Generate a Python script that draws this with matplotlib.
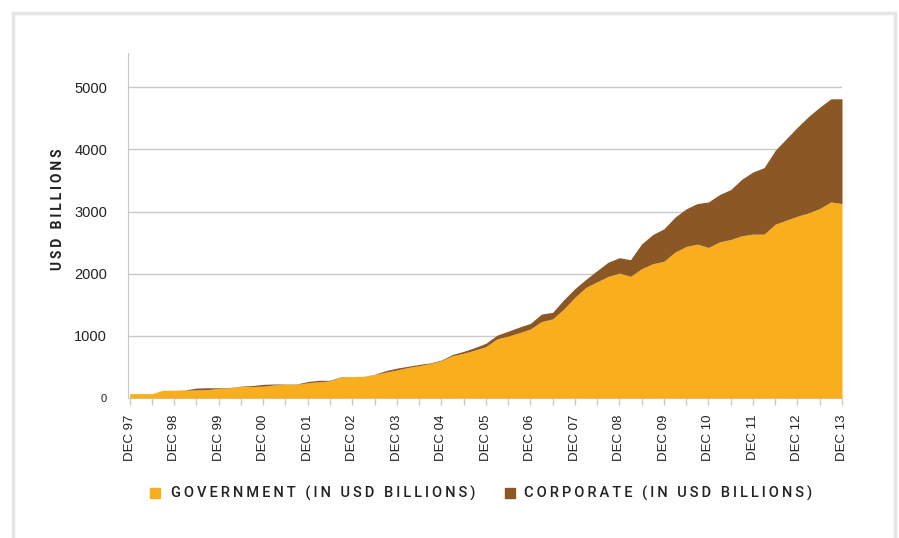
import matplotlib
matplotlib.use("Agg")
import matplotlib.pyplot as plt
from matplotlib.patches import Rectangle

# quarterly, Dec 97 .. Dec 13 (USD billions)
government = [70, 70, 70, 125, 125, 125, 130, 135, 155, 165,
              185, 185, 190, 210, 220, 220, 245, 260, 275, 340,
              345, 350, 375, 415, 450, 490, 520, 555, 600, 680,
              720, 770, 826, 950, 995, 1050, 1110, 1230, 1272, 1430,
              1620, 1780, 1870, 1957, 2010, 1957, 2080, 2160, 2200, 2347,
              2438, 2475, 2422, 2512, 2550, 2610, 2636, 2636, 2796, 2860,
              2925, 2978, 3048, 3154, 3128]
corporate = [0, 0, 0, 0, 0, 5, 30, 30, 10, 5,
             5, 15, 30, 15, 5, 5, 20, 25, 10, 5,
             0, 0, 5, 25, 30, 20, 20, 10, 10, 20,
             30, 40, 54, 60, 80, 90, 90, 120, 106, 150,
             140, 130, 180, 229, 247, 268, 400, 470, 522, 563,
             605, 653, 732, 761, 803, 910, 1000, 1070, 1188, 1311,
             1433, 1552, 1631, 1659, 1685]
year_labels = ["DEC 97", "DEC 98", "DEC 99", "DEC 00", "DEC 01", "DEC 02",
               "DEC 03", "DEC 04", "DEC 05", "DEC 06", "DEC 07", "DEC 08",
               "DEC 09", "DEC 10", "DEC 11", "DEC 12", "DEC 13"]
y_ticks = [0, 1000, 2000, 3000, 4000, 5000]
legend_labels = ["GOVERNMENT (IN USD BILLIONS)", "CORPORATE (IN USD BILLIONS)"]

GOV_COLOR = "#F9AE1D"
CORP_COLOR = "#8B5724"
GRID = "#C9C9C9"

plt.rcParams["font.family"] = ["Liberation Sans", "DejaVu Sans"]


def spaced(s, sep="\u2009"):
    # fake letter spacing
    return sep.join(s)


W, H = 899, 538
fig = plt.figure(figsize=(W / 100, H / 100), dpi=100)
fig.patch.set_facecolor("white")

# light grey frame around the panel
fig.patches.append(Rectangle((13 / W, -0.1), (895 - 13) / W, (H - 13) / H + 0.1,
                             transform=fig.transFigure, fill=False,
                             edgecolor="#E6E6E6", linewidth=2.5, zorder=0))

ax = fig.add_axes([128 / W, 1 - 398 / H, (842 - 128) / W, (398 - 53) / H])

x = list(range(len(government)))
total = [g + c for g, c in zip(government, corporate)]
ax.fill_between(x, 0, government, color=GOV_COLOR, linewidth=0, zorder=3)
ax.fill_between(x, government, total, color=CORP_COLOR, linewidth=0, zorder=3)

ax.set_xlim(-0.15, len(x) - 1)
ax.set_ylim(0, 5550)

ax.set_yticks(y_ticks)
ax.set_yticklabels([str(v) for v in y_ticks], fontsize=10.5, color="#222222")
ax.get_yticklabels()[0].set_fontsize(8)
ax.tick_params(axis="y", length=0, pad=15)
for v in y_ticks[1:]:
    ax.axhline(v, color=GRID, linewidth=1, zorder=1)

ax.set_xticks(range(0, len(x), 4))
ax.set_xticklabels(year_labels, rotation=90, fontsize=9.5, color="#222222")
ax.set_xticks(range(2, len(x), 4), minor=True)
ax.tick_params(axis="x", which="both", length=5, color=GRID, pad=7, width=1)

for s in ["top", "right"]:
    ax.spines[s].set_visible(False)
ax.spines["left"].set_color(GRID)
ax.spines["bottom"].set_color(GRID)
ax.spines["left"].set_zorder(4)

fig.text(58 / W, 1 - 209 / H, spaced("USD BILLIONS"), rotation=90,
         ha="center", va="center", fontsize=10, fontweight="bold",
         color="#222222", family=["Roboto", "DejaVu Sans"])

# legend drawn by hand to get the wide letter spacing
sq = 10
fig.patches.append(Rectangle((150 / W, 1 - 498 / H), sq / W, sq / H,
                             transform=fig.transFigure, color=GOV_COLOR))
fig.text(171 / W, 1 - 493 / H, spaced(legend_labels[0]),
         ha="left", va="center", fontsize=10.5, fontweight="medium",
         color="#222222", family=["Roboto", "DejaVu Sans"])
fig.patches.append(Rectangle((505 / W, 1 - 498 / H), sq / W, sq / H,
                             transform=fig.transFigure, color=CORP_COLOR))
fig.text(524 / W, 1 - 493 / H, spaced(legend_labels[1]),
         ha="left", va="center", fontsize=10.5, fontweight="medium",
         color="#222222", family=["Roboto", "DejaVu Sans"])

fig.savefig("out.png", dpi=100, facecolor="white")
